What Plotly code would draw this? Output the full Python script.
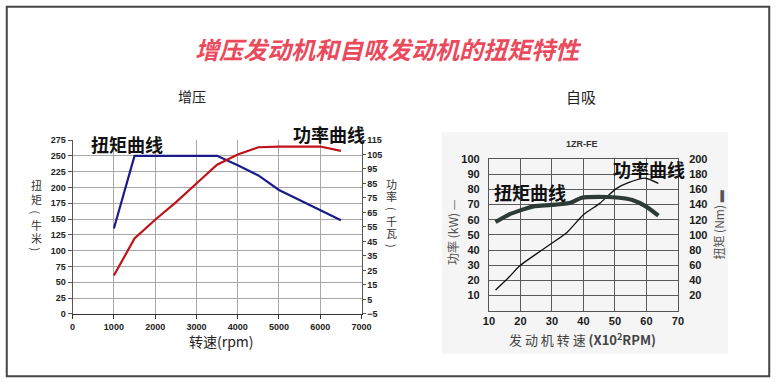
import plotly.graph_objects as go

W, H = 780, 382

# ---------------- data: turbo engine (left chart) ----------------
turbo_rpm = [1000, 1500, 2000, 2500, 3000, 3500, 4000, 4500, 5000, 5500, 6000, 6500]
turbo_torque_nm = [135, 250, 250, 250, 250, 250, 235, 219, 196, 180, 164, 148]
turbo_power_kw = [21.5, 47, 60, 72, 85, 98, 105, 110, 110.5, 110.5, 110.5, 107.5]

# ---------------- data: NA engine 1ZR-FE (right chart) ----------------
na_rpm_torque = [12.1, 16.2, 20.4, 24.5, 29.7, 35.9, 39.5, 47.2, 51.4, 55.5, 59.7, 63.8]
na_torque_nm = [117, 126.5, 133, 138, 139.5, 142.5, 149, 150, 149, 146, 138, 125.5]
na_rpm_power = [12.1, 16.2, 19.8, 24.5, 29.7, 34.8, 40.0, 45.2, 50.3, 54.5, 59.7, 63.8]
na_power_kw = [13.6, 21.7, 29.6, 36.6, 44.1, 51.6, 63.3, 70.8, 80.4, 84.6, 87.4, 84.0]

left_y_ticks = [0, 25, 50, 75, 100, 125, 150, 175, 200, 225, 250, 275]
left_y2_ticks = [-5, 5, 15, 25, 35, 45, 55, 65, 75, 85, 95, 105, 115]
right_y_ticks = [10, 20, 30, 40, 50, 60, 70, 80, 90, 100]
right_y2_ticks = [20, 40, 60, 80, 100, 120, 140, 160, 180, 200]


def px(x):
    return x / W


def py(y):
    return (H - y) / H


CJK = "Noto Sans CJK SC"
LAT = "Liberation Sans"

fig = go.Figure()

fig.add_trace(go.Scatter(x=turbo_rpm, y=turbo_torque_nm, mode="lines",
                         line=dict(color="#1b1b8c", width=2.2),
                         xaxis="x", yaxis="y", showlegend=False, hoverinfo="skip"))
fig.add_trace(go.Scatter(x=turbo_rpm, y=turbo_power_kw, mode="lines",
                         line=dict(color="#c01219", width=2.2),
                         xaxis="x", yaxis="y2", showlegend=False, hoverinfo="skip"))
fig.add_trace(go.Scatter(x=na_rpm_torque, y=na_torque_nm, mode="lines",
                         line=dict(color="#2c3b36", width=4.2, shape="spline", smoothing=0.6),
                         xaxis="x2", yaxis="y4", showlegend=False, hoverinfo="skip"))
fig.add_trace(go.Scatter(x=na_rpm_power, y=na_power_kw, mode="lines",
                         line=dict(color="#111111", width=1.3, shape="spline", smoothing=0.6),
                         xaxis="x2", yaxis="y3", showlegend=False, hoverinfo="skip"))

lt_font = dict(family=LAT, size=9, color="#222222", weight="bold")
rt_font = dict(family=LAT, size=11, color="#1a1a1a", weight="bold")

fig.update_layout(
    width=W, height=H,
    margin=dict(l=0, r=0, t=0, b=0),
    paper_bgcolor="white", plot_bgcolor="white",
    xaxis=dict(domain=[px(68), px(363)], range=[0, 7000], dtick=1000,
               anchor="y", showgrid=True, gridcolor="#a8a8a8", gridwidth=1,
               showline=True, linecolor="#333333", linewidth=1,
               ticks="outside", ticklen=4, tickcolor="#333333",
               tickfont=lt_font, zeroline=False, fixedrange=True),
    yaxis=dict(domain=[py(317), py(138)], range=[0, 275], tickvals=left_y_ticks,
               anchor="x", showgrid=True, gridcolor="#a8a8a8", gridwidth=1,
               showline=True, linecolor="#555555", linewidth=1,
               ticks="outside", ticklen=4, tickcolor="#555555",
               tickfont=lt_font, zeroline=False, fixedrange=True),
    yaxis2=dict(overlaying="y", side="right", anchor="x", range=[-5, 115],
                tickvals=left_y2_ticks, showgrid=False, zeroline=False,
                showline=True, linecolor="#555555", linewidth=1,
                ticks="outside", ticklen=3, tickcolor="#555555",
                tickfont=lt_font, fixedrange=True),
    xaxis2=dict(domain=[px(493), px(686)], range=[10, 70], dtick=10,
                anchor="y3", showgrid=True, gridcolor="#5a5a5a", gridwidth=1,
                showline=True, mirror=True, linecolor="#555555", linewidth=1,
                ticks="", tickfont=rt_font, zeroline=False, fixedrange=True),
    yaxis3=dict(domain=[py(313.6), py(157.7)], range=[0, 100], tickvals=right_y_ticks,
                anchor="x2", showgrid=True, gridcolor="#5a5a5a", gridwidth=1,
                showline=True, mirror=True, linecolor="#555555", linewidth=1,
                ticks="", ticklabelstandoff=6, tickfont=rt_font, zeroline=False,
                fixedrange=True),
    yaxis4=dict(overlaying="y3", side="right", anchor="x2", range=[0, 200],
                tickvals=right_y2_ticks, showgrid=False, zeroline=False,
                showline=True, linecolor="#555555", linewidth=1,
                ticks="", ticklabelstandoff=8, tickfont=rt_font, fixedrange=True),
)

shapes = [
    # faint grey panel behind the right chart
    dict(type="rect", xref="paper", yref="paper", x0=px(445), x1=px(737),
         y0=py(358), y1=py(130), fillcolor="#f5f5f5", line=dict(width=0), layer="below"),
    # outer frame
    dict(type="rect", xref="paper", yref="paper", x0=0.001, x1=0.999, y0=0.002, y1=0.998,
         line=dict(color="#444444", width=2), fillcolor="rgba(0,0,0,0)"),
]
fig.update_layout(shapes=shapes)

ann = []


def text(x, y, s, size, color="#111111", family=CJK, weight="normal", angle=0, style="normal"):
    ann.append(dict(x=px(x), y=py(y), xref="paper", yref="paper", text=s, showarrow=False,
                    xanchor="center", yanchor="middle", textangle=angle,
                    font=dict(family=family, size=size, color=color, weight=weight, style=style)))


# main title
text(390, 44, "增压发动机和自吸发动机的扭矩特性", 24, color="#ea4a5c", weight="bold", style="italic")
# sub titles
text(190, 93, "增压", 14, color="#222222")
text(587, 93, "自吸", 15, color="#222222")

# left chart labels
text(124, 142, "扭矩曲线", 18, color="#111111", weight="bold")
text(330, 132, "功率曲线", 18, color="#111111", weight="bold")
text(220, 345, "转速(rpm)", 14, color="#222222")

# vertical axis titles, one character per line (parentheses turned 90 degrees)
left_title = ["扭", "矩", "(", "牛", "米", ")"]
left_title_y = [184, 199, 213, 226, 239, 251]
for ch, yy in zip(left_title, left_title_y):
    text(31, yy, ch, 11, color="#333333", angle=90 if ch in "()" else 0)
right_title = ["功", "率", "(", "千", "瓦", ")"]
right_title_y = [183, 196, 209, 221, 234, 247]
for ch, yy in zip(right_title, right_title_y):
    text(394, yy, ch, 11, color="#333333", angle=90 if ch in "()" else 0)

# right chart labels
text(588, 142, "1ZR-FE", 9, color="#333333", family=LAT, weight="bold")
text(535, 192, "扭矩曲线", 18, color="#111111", weight="bold")
text(656, 168, "功率曲线", 18, color="#111111", weight="bold")
text(456, 233, "功率 (kW) —", 12, color="#555555", angle=-90)
text(727, 226, "扭矩 (Nm) ▬", 12, color="#555555", angle=-90)
text(589, 343, "发 动 机 转 速 <b>(X10<sup>2</sup>RPM)</b>", 13, color="#444444")

fig.update_layout(annotations=ann)

fig.write_html("out.html", config={"displayModeBar": False},
               post_script="document.body.style.margin='0px';document.body.style.overflow='hidden';")
